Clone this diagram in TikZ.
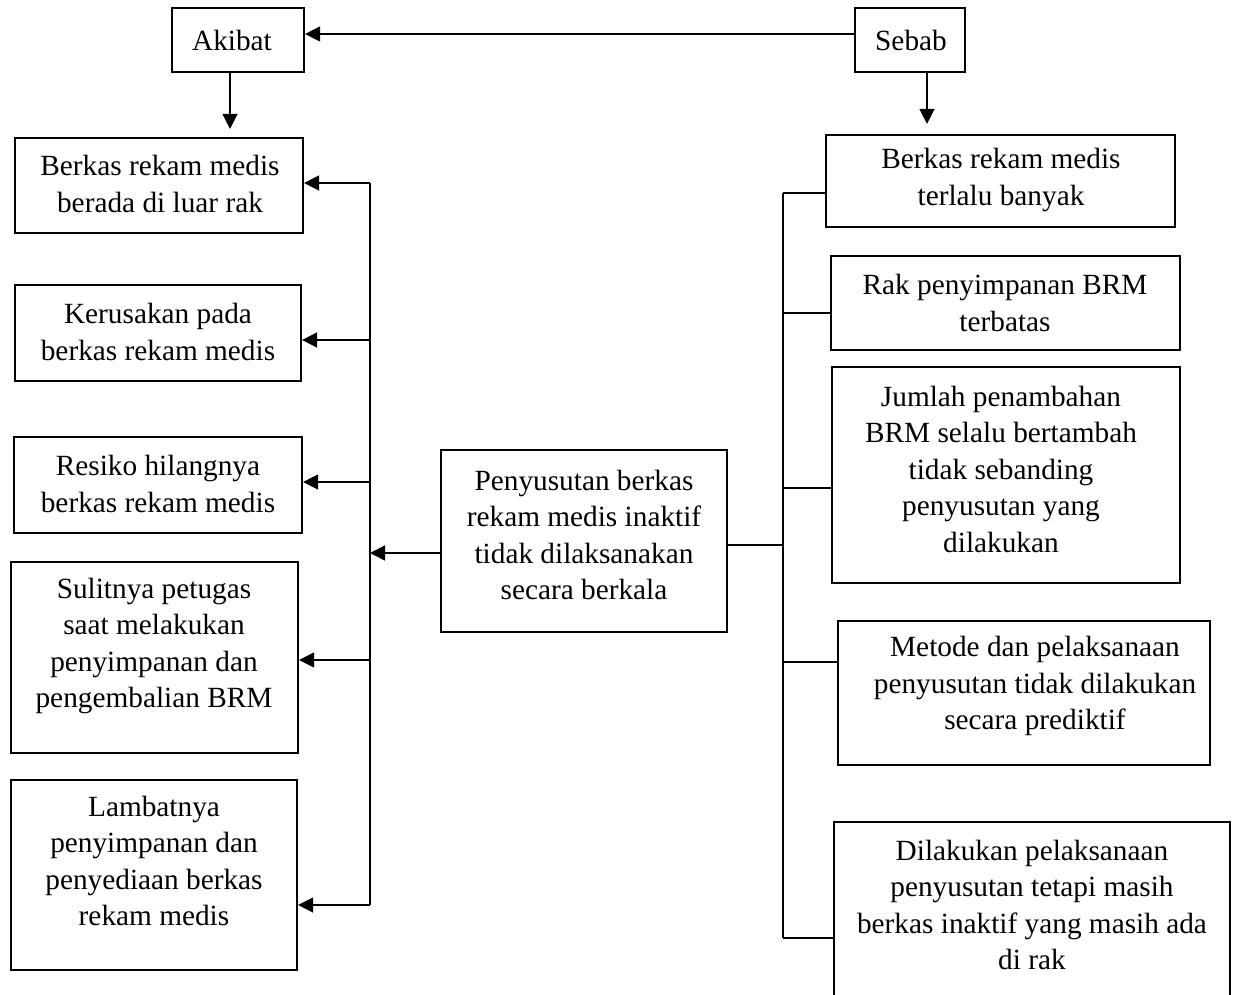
\documentclass[tikz,border=0pt]{standalone}
\usepackage{fontspec}
\setmainfont{Liberation Serif}
\usetikzlibrary{arrows.meta,fit,calc}
\begin{document}
\begin{tikzpicture}[x=0.5pt,y=-0.5pt,
  box/.style={draw,line width=1.1pt,inner sep=0pt},
  txt/.style={inner sep=0pt,align=center,font=\fontsize{14.65}{18.25}\selectfont},
  arr/.style={line width=0.7pt,-{Triangle[length=7.5pt,width=7.5pt]}},
  ln/.style={line width=0.7pt}]
\clip (0,0) rectangle (1238,995);
\fill[white] (0,0) rectangle (1238,995);
% boxes
\node[box,fit={(172,8) (304,72)}] (akibat) {};
\node[box,fit={(855,8) (965,72)}] (sebab) {};
\node[box,fit={(15,138) (303,233)}] (L1) {};
\node[box,fit={(15,285) (301,381)}] (L2) {};
\node[box,fit={(14,437) (302,533)}] (L3) {};
\node[box,fit={(11,562) (298,753)}] (L4) {};
\node[box,fit={(11,780) (297,970)}] (L5) {};
\node[box,fit={(441,450) (727,632)}] (C) {};
\node[box,fit={(826,135) (1175,227)}] (R1) {};
\node[box,fit={(831,256) (1180,350)}] (R2) {};
\node[box,fit={(832,367) (1180,583)}] (R3) {};
\node[box,fit={(838,621) (1210,765)}] (R4) {};
\node[box,fit={(834,822) (1230,1012)}] (R5) {};
% texts
\node[txt] (tak) at (232,40) {Akibat};
\node[txt] (tse) at (911,40) {Sebab};
\node[txt] (tL1) at (160,184) {Berkas rekam medis\\berada di luar rak};
\node[txt] (tL2) at (158,332) {Kerusakan pada\\berkas rekam medis};
\node[txt] (tL3) at (158,484) {Resiko hilangnya\\berkas rekam medis};
\node[txt] (tL4) at (154,646) {Sulitnya petugas\\saat melakukan\\penyimpanan dan\\pengembalian BRM};
\node[txt] (tL5) at (154,861) {Lambatnya\\penyimpanan dan\\penyediaan berkas\\rekam medis};
\node[txt] (tC) at (584,535) {Penyusutan berkas\\rekam medis inaktif\\tidak dilaksanakan\\secara berkala};
\node[txt] (tR1) at (1001,180) {Berkas rekam medis\\terlalu banyak};
\node[txt] (tR2) at (1005,303) {Rak penyimpanan BRM\\terbatas};
\node[txt] (tR3) at (1001,469) {Jumlah penambahan\\BRM selalu bertambah\\tidak sebanding\\penyusutan yang\\dilakukan};
\node[txt] (tR4) at (1035,686) {Metode dan pelaksanaan\\penyusutan tidak dilakukan\\secara prediktif};
\node[txt] (tR5) at (1032,905) {Dilakukan pelaksanaan\\penyusutan tetapi masih\\berkas inaktif yang masih ada\\di rak};
% top connectors
\coordinate (s1) at (855,34);
\draw[arr] (s1) -- (s1 -| akibat.east);
\coordinate (a1) at (230,72);
\draw[arr,shorten >=4pt] (a1) -- (a1 |- L1.north);
\coordinate (s2) at (927,72);
\draw[arr,shorten >=5pt] (s2) -- (s2 |- R1.north);
% left bus
\coordinate (lb1) at (370,183);
\coordinate (lb2) at (370,340);
\coordinate (lb3) at (370,482);
\coordinate (lb4) at (370,660);
\coordinate (lb5) at (370,905);
\coordinate (lbc) at (370,553);
\draw[ln] (lb1) -- (lb5);
\draw[arr] (lb1) -- (lb1 -| L1.east);
\draw[arr] (lb2) -- (lb2 -| L2.east);
\draw[arr] (lb3) -- (lb3 -| L3.east);
\draw[arr] (lb4) -- (lb4 -| L4.east);
\draw[arr] (lb5) -- (lb5 -| L5.east);
\draw[arr] (lbc -| C.west) -- (lbc);
% right bus
\coordinate (rb1) at (783,193);
\coordinate (rb2) at (783,313);
\coordinate (rb3) at (783,488);
\coordinate (rbc) at (783,545);
\coordinate (rb4) at (783,662);
\coordinate (rb5) at (783,938);
\draw[ln] (rb1) -- (rb5);
\draw[ln] (rb1) -- (rb1 -| R1.west);
\draw[ln] (rb2) -- (rb2 -| R2.west);
\draw[ln] (rb3) -- (rb3 -| R3.west);
\draw[ln] (rbc -| C.east) -- (rbc);
\draw[ln] (rb4) -- (rb4 -| R4.west);
\draw[ln] (rb5) -- (rb5 -| R5.west);
\end{tikzpicture}
\end{document}
